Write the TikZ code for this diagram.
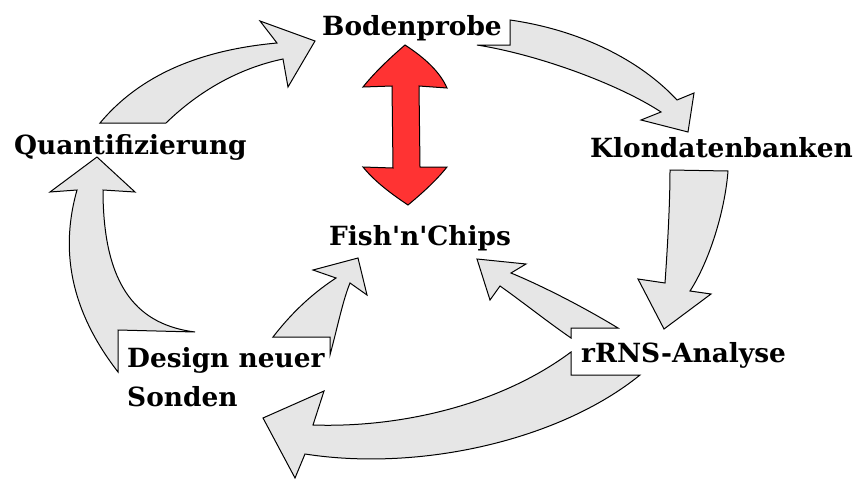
\documentclass[tikz,border=0pt]{standalone}
\usepackage{fontspec}
\setmainfont{DejaVu Serif}

\definecolor{arrowgray}{HTML}{E6E6E6}
\definecolor{arrowred}{HTML}{FF3333}

\tikzset{
	blockarrow/.style={draw=black, fill=arrowgray, line width=1pt, line join=miter},
	redarrow/.style={draw=black, fill=arrowred, line width=1pt, line join=miter},
	lbl/.style={font=\fontsize{26.4}{39}\selectfont\bfseries, inner sep=0pt, anchor=base west},
}

\begin{document}
\begin{tikzpicture}[x=1pt, y=-1pt]
		\useasboundingbox (0,0) rectangle (856,479);
		
		% stations of the cycle
		\node[lbl] (boden) at (322,35) {Bodenprobe};
		\node[lbl] (klon) at (590,157) {Klondatenbanken};
		\node[lbl] (rrns) at (581,362) {rRNS-Analyse};
		\node[lbl] (design) at (127,367) {Design neuer};
		\node[lbl] (sonden) at (127,406) {Sonden};
		\node[lbl] (quant) at (14,154) {Quantifizierung};
		\node[lbl] (fish) at (329,245) {Fish\textquotesingle n\textquotesingle Chips};
		
		% Quantifizierung -> Bodenprobe
		\draw[blockarrow] (100,123) -- (166,123)
		.. controls (200,90) and (240,68) .. (283,59)
		-- (288,87) -- (315,41) -- (260,21) -- (277,43)
		.. controls (200,50) and (140,75) .. (100,123) -- cycle;
		
		% Bodenprobe -> Klondatenbanken
		\draw[blockarrow] (510,20)
		.. controls (580,30) and (640,60) .. (677,100)
		-- (694,93) -- (688,132) -- (641,120) -- (661,112)
		.. controls (620,85) and (540,55) .. (477,45)
		-- (510,45) -- cycle;
		
		% Klondatenbanken -> rRNS-Analyse
		\draw[blockarrow] (670,170) -- (728,171)
		.. controls (725,210) and (710,260) .. (690,291)
		-- (711,294) -- (664,329) -- (638,279) -- (665,283)
		.. controls (668,240) and (670,200) .. (670,170) -- cycle;
		
		% rRNS-Analyse -> Fish'n'Chips
		\draw[blockarrow] (618,328) -- (571,328) -- (571,338)
		.. controls (545,320) and (520,300) .. (500,286)
		-- (490,300) -- (477,259) -- (526,264) -- (511,273)
		.. controls (540,285) and (580,305) .. (618,328) -- cycle;
		
		% rRNS-Analyse -> Design neuer Sonden
		\draw[blockarrow] (571,352) -- (571,375) -- (640,375)
		.. controls (560,440) and (420,472) .. (305,454)
		-- (295,478) -- (263,418) -- (324,391) -- (313,425)
		.. controls (400,428) and (500,405) .. (571,352) -- cycle;
		
		% Design neuer Sonden -> Fish'n'Chips
		\draw[blockarrow] (273,337) -- (330,337) -- (330,355)
		.. controls (338,325) and (343,300) .. (350,283)
		-- (367,295) -- (358,258) -- (313,270) -- (336,278)
		.. controls (310,295) and (290,315) .. (273,337) -- cycle;
		
		% Design neuer Sonden -> Quantifizierung
		\draw[blockarrow] (118,330) -- (195,332)
		.. controls (140,325) and (103,290) .. (103,190)
		-- (135,192) -- (97,157) -- (50,192) -- (77,190)
		.. controls (60,250) and (70,310) .. (118,372) -- cycle;
		
		% Bodenprobe <-> Fish'n'Chips
		\draw[redarrow] (405,45)
		.. controls (425,58) and (440,72) .. (447,88)
		-- (419,86) -- (420,167) -- (447,167)
		.. controls (435,182) and (420,195) .. (408,205)
		.. controls (393,195) and (375,182) .. (363,167)
		-- (393,168) -- (392,86) -- (363,87)
		.. controls (375,72) and (390,58) .. (405,45) -- cycle;
	\end{tikzpicture}
\end{document}
